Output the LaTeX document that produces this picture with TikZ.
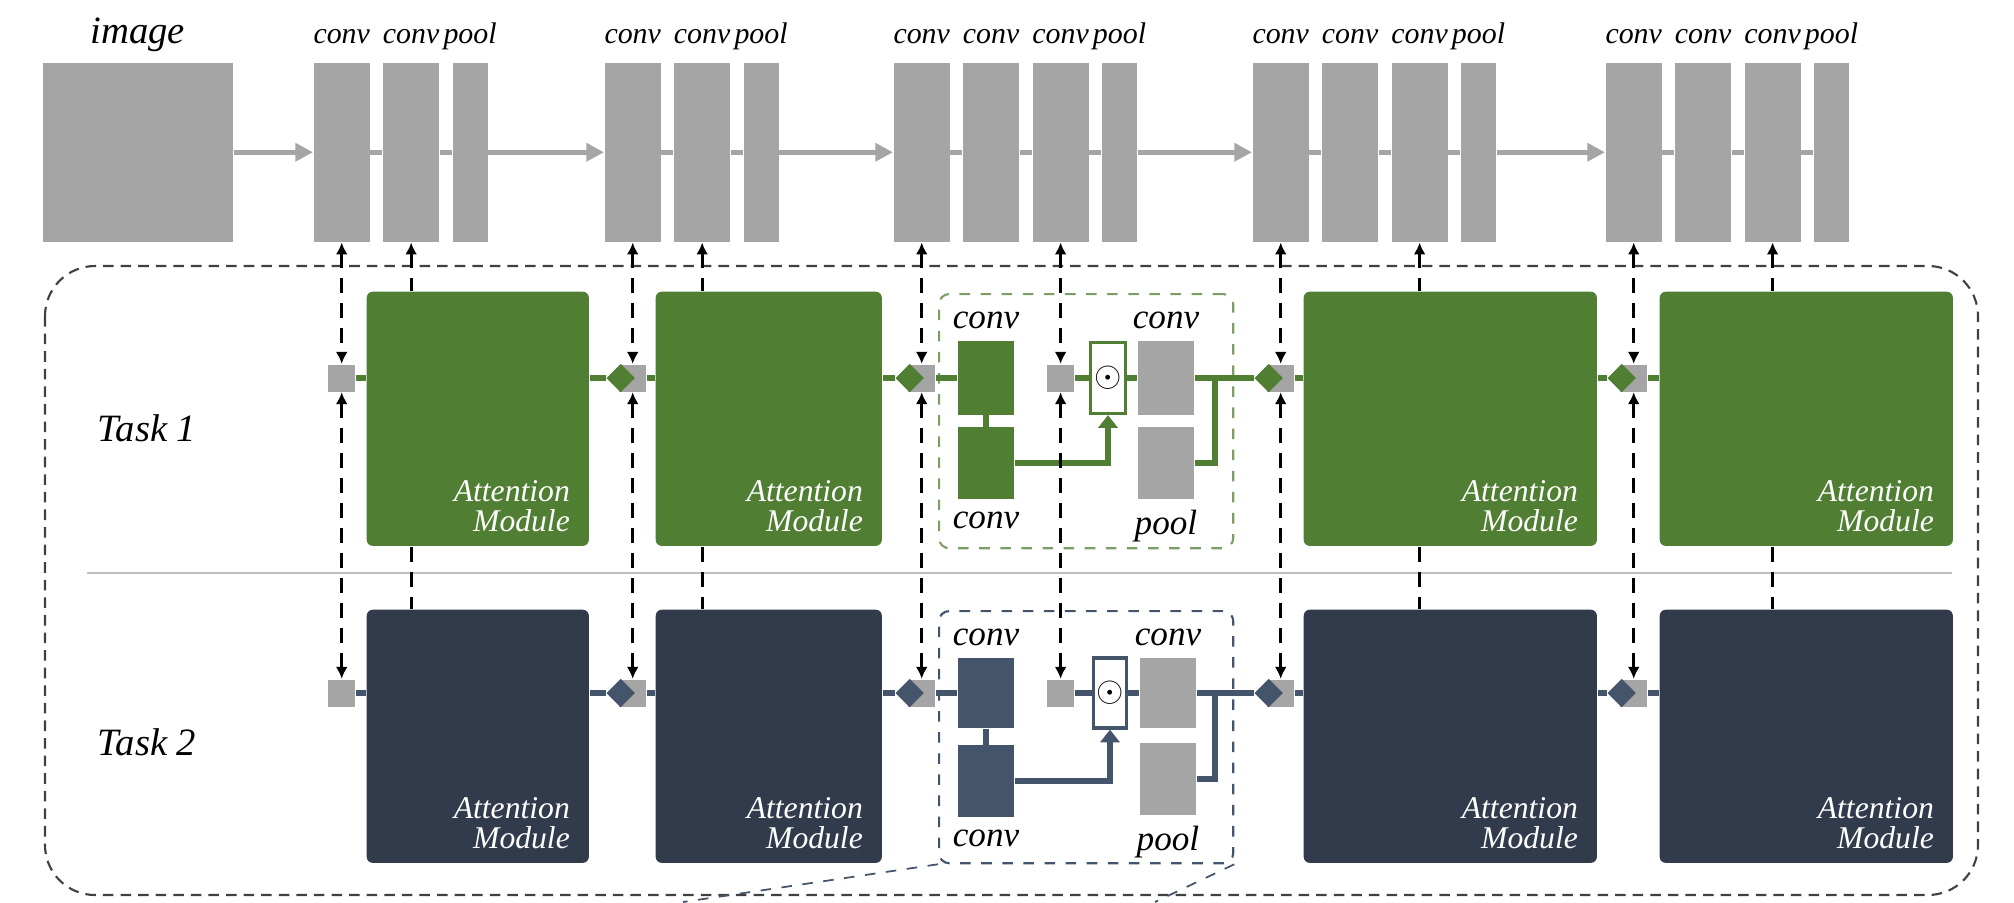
\documentclass[tikz,border=0pt]{standalone}
\usepackage{fontspec}
\setmainfont{Liberation Serif}
\usetikzlibrary{positioning, arrows.meta, shapes.geometric}

\definecolor{blkgray}{RGB}{165,165,165}
\definecolor{amgreen}{RGB}{80,126,50}
\definecolor{amdark}{RGB}{50,59,76}
\definecolor{rowdark}{RGB}{68,84,106}

\begin{document}
\begin{tikzpicture}[
  x=0.01cm, y=-0.01cm,
  convblk/.style={fill=blkgray, minimum width=5.6mm, minimum height=17.9mm,
                  inner sep=0pt, anchor=north west},
  poolblk/.style={convblk, minimum width=3.5mm},
  toplbl/.style={font=\itshape\fontsize{8.5}{9}\selectfont, inner sep=0pt,
                 text height=1.6mm, text depth=0.6mm},
  flow/.style={draw=blkgray, line width=1.4pt},
  flowarr/.style={flow, -{Triangle[length=5pt, width=5pt]}},
  amg/.style={fill=amgreen, rounded corners=0.6mm, inner sep=0pt,
              minimum height=25.4mm, anchor=north west},
  amd/.style={amg, fill=amdark, minimum height=25.3mm},
  amlbl/.style={font=\itshape\fontsize{9}{8.5}\selectfont, text=white,
                align=right, inner sep=0pt},
  tasklbl/.style={font=\itshape\fontsize{11}{12}\selectfont},
  sq/.style={fill=blkgray, minimum size=2.7mm, inner sep=0pt},
  dmdg/.style={diamond, aspect=1, fill=amgreen, minimum size=2.9mm, inner sep=0pt},
  dmdd/.style={dmdg, fill=rowdark},
  gline/.style={draw=amgreen, line width=1.6pt},
  dline/.style={draw=rowdark, line width=1.6pt},
  attn/.style={-{Triangle[length=3.6pt, width=5.4pt]}},
  inbox/.style={dashed, line width=0.6pt, rounded corners=1mm, inner sep=0pt,
                minimum width=29.4mm, anchor=north west},
  inconv/.style={minimum width=5.6mm, inner sep=0pt},
  odotbox/.style={fill=white, line width=0.9pt, minimum width=3.5mm,
                  minimum height=7.1mm, inner sep=0pt},
  inlbl/.style={font=\itshape\fontsize{10}{11}\selectfont, inner sep=0pt},
  vline/.style={draw=black, line width=0.85pt, dash pattern=on 4.3pt off 2.8pt},
  bidir/.style={vline, {Latex[length=3.4pt, width=3.4pt]}-{Latex[length=3.4pt, width=3.4pt]}},
  uparr/.style={vline, {Latex[length=3.4pt, width=3.4pt]}-},
  frame/.style={draw=black!75, line width=0.6pt, dash pattern=on 3pt off 2pt,
                rounded corners=5mm},
  zoomln/.style={draw=rowdark, line width=0.5pt, dashed},
]
\useasboundingbox (0,0) rectangle (2014,902);

% ------------------- SHARED NETWORK (top row) -------------------
\node[convblk, minimum width=19mm] (img) at (42,62) {};
\node[toplbl, font=\itshape\fontsize{11}{12}\selectfont, above=1.2mm of img] (limg) {image};

\node[convblk] (g1a) at (313,62) {};
\node[convblk, right=1.2mm of g1a] (g1b) {};
\node[poolblk, right=1.2mm of g1b] (g1p) {};

\node[convblk] (g2a) at (604,62) {};
\node[convblk, right=1.2mm of g2a] (g2b) {};
\node[poolblk, right=1.2mm of g2b] (g2p) {};

\node[convblk] (g3a) at (893,62) {};
\node[convblk, right=1.2mm of g3a] (g3b) {};
\node[convblk, right=1.2mm of g3b] (g3c) {};
\node[poolblk, right=1.2mm of g3c] (g3p) {};

\node[convblk] (g4a) at (1252,62) {};
\node[convblk, right=1.2mm of g4a] (g4b) {};
\node[convblk, right=1.2mm of g4b] (g4c) {};
\node[poolblk, right=1.2mm of g4c] (g4p) {};

\node[convblk] (g5a) at (1605,62) {};
\node[convblk, right=1.2mm of g5a] (g5b) {};
\node[convblk, right=1.2mm of g5b] (g5c) {};
\node[poolblk, right=1.2mm of g5c] (g5p) {};

\node[toplbl, above=1.2mm of g1a] (l1a) {conv};
\node[toplbl, above=1.2mm of g1b] (l1b) {conv};
\node[toplbl, above=1.2mm of g1p] (l1p) {pool};
\node[toplbl, above=1.2mm of g2a] (l2a) {conv};
\node[toplbl, above=1.2mm of g2b] (l2b) {conv};
\node[toplbl, above=1.2mm of g2p] (l2p) {pool};
\node[toplbl, above=1.2mm of g3a] (l3a) {conv};
\node[toplbl, above=1.2mm of g3b] (l3b) {conv};
\node[toplbl, above=1.2mm of g3c] (l3c) {conv};
\node[toplbl, above=1.2mm of g3p] (l3p) {pool};
\node[toplbl, above=1.2mm of g4a] (l4a) {conv};
\node[toplbl, above=1.2mm of g4b] (l4b) {conv};
\node[toplbl, above=1.2mm of g4c] (l4c) {conv};
\node[toplbl, above=1.2mm of g4p] (l4p) {pool};
\node[toplbl, above=1.2mm of g5a] (l5a) {conv};
\node[toplbl, above=1.2mm of g5b] (l5b) {conv};
\node[toplbl, above=1.2mm of g5c] (l5c) {conv};
\node[toplbl, above=1.2mm of g5p] (l5p) {pool};

\draw[flowarr] (img) -- (g1a);
\draw[flow] (g1a) -- (g1b) -- (g1p);
\draw[flowarr] (g1p) -- (g2a);
\draw[flow] (g2a) -- (g2b) -- (g2p);
\draw[flowarr] (g2p) -- (g3a);
\draw[flow] (g3a) -- (g3b) -- (g3c) -- (g3p);
\draw[flowarr] (g3p) -- (g4a);
\draw[flow] (g4a) -- (g4b) -- (g4c) -- (g4p);
\draw[flowarr] (g4p) -- (g5a);
\draw[flow] (g5a) -- (g5b) -- (g5c) -- (g5p);

% ------------------- TASK NETWORKS -------------------
\draw[frame] (45,266) rectangle (1978,895);
\draw[draw=black!25, line width=0.7pt] (87,573) -- (1952,573);

\node[tasklbl] (task1) at (147,428) {Task 1};
\node[tasklbl] (task2) at (147,742) {Task 2};

\coordinate (rowg) at (0,378);
\coordinate (rowd) at (0,693);

% attention modules, task 1
\node[amg, minimum width=22.2mm] (am1g) at (366,291) {};
\node[amg, minimum width=22.6mm] (am2g) at (655,291) {};
\node[amg, minimum width=29.3mm] (am3g) at (1303,291) {};
\node[amg, minimum width=29.3mm] (am4g) at (1659,291) {};

% attention modules, task 2
\node[amd, minimum width=22.2mm] (am1d) at (366,609) {};
\node[amd, minimum width=22.6mm] (am2d) at (655,609) {};
\node[amd, minimum width=29.3mm] (am3d) at (1303,609) {};
\node[amd, minimum width=29.3mm] (am4d) at (1659,609) {};

\node[amlbl, above left=1.4mm and 1.9mm of am1g.south east] (t1g) {Attention\\Module};
\node[amlbl, above left=1.4mm and 1.9mm of am2g.south east] (t2g) {Attention\\Module};
\node[amlbl, above left=1.4mm and 1.9mm of am3g.south east] (t3g) {Attention\\Module};
\node[amlbl, above left=1.4mm and 1.9mm of am4g.south east] (t4g) {Attention\\Module};
\node[amlbl, above left=1.4mm and 1.9mm of am1d.south east] (t1d) {Attention\\Module};
\node[amlbl, above left=1.4mm and 1.9mm of am2d.south east] (t2d) {Attention\\Module};
\node[amlbl, above left=1.4mm and 1.9mm of am3d.south east] (t3d) {Attention\\Module};
\node[amlbl, above left=1.4mm and 1.9mm of am4d.south east] (t4d) {Attention\\Module};

% feature taps (grey squares) and merge points (diamonds)
\node[sq] (s1g) at (g1a |- rowg) {};
\node[sq] (s2g) at (g2a |- rowg) {};
\node[sq] (s3g) at (g3a |- rowg) {};
\node[sq] (s4g) at (g3c |- rowg) {};
\node[sq] (s5g) at (g4a |- rowg) {};
\node[sq] (s6g) at (g5a |- rowg) {};
\node[dmdg, xshift=-1.2mm] (d2g) at (s2g) {};
\node[dmdg, xshift=-1.2mm] (d3g) at (s3g) {};
\node[dmdg, xshift=-1.2mm] (d5g) at (s5g) {};
\node[dmdg, xshift=-1.2mm] (d6g) at (s6g) {};

\node[sq] (s1d) at (g1a |- rowd) {};
\node[sq] (s2d) at (g2a |- rowd) {};
\node[sq] (s3d) at (g3a |- rowd) {};
\node[sq] (s4d) at (g3c |- rowd) {};
\node[sq] (s5d) at (g4a |- rowd) {};
\node[sq] (s6d) at (g5a |- rowd) {};
\node[dmdd, xshift=-1.2mm] (d2d) at (s2d) {};
\node[dmdd, xshift=-1.2mm] (d3d) at (s3d) {};
\node[dmdd, xshift=-1.2mm] (d5d) at (s5d) {};
\node[dmdd, xshift=-1.2mm] (d6d) at (s6d) {};

% ------------------- OPENED-UP MODULE (task 1) -------------------
\node[inbox, draw=amgreen!75, minimum height=25.4mm] (ibg) at (938,293) {};
\node[inconv, fill=amgreen, minimum height=7.3mm] (ctg) at (986,378) {};
\node[inconv, fill=amgreen, minimum height=7.1mm] (cbg) at (986,463) {};
\node[odotbox, draw=amgreen] (mg) at (1108,378) {$\odot$};
\node[inconv, fill=blkgray, minimum height=7.3mm] (pcg) at (1166,378) {};
\node[inconv, fill=blkgray, minimum height=7.2mm] (ppg) at (1166,463) {};
\coordinate (jg) at (1215,378);

\node[inlbl, above=1.1mm of ctg] (lctg) {conv};
\node[inlbl, below=1.2mm of cbg] (lcbg) {conv};
\node[inlbl, above=1.1mm of pcg] (lpcg) {conv};
\node[inlbl, below=1.0mm of ppg] (lppg) {pool};

% ------------------- OPENED-UP MODULE (task 2) -------------------
\node[inbox, draw=rowdark, minimum height=25.2mm] (ibd) at (938,610) {};
\node[inconv, fill=rowdark, minimum height=7.0mm] (ctd) at (986,693) {};
\node[inconv, fill=rowdark, minimum height=7.1mm] (cbd) at (986,781) {};
\node[odotbox, draw=rowdark, minimum width=3.3mm, minimum height=7.0mm] (md) at (1110,693) {$\odot$};
\node[inconv, fill=blkgray, minimum height=7.0mm] (pcd) at (1168,693) {};
\node[inconv, fill=blkgray, minimum height=7.2mm] (ppd) at (1168,779) {};
\coordinate (jd) at (1215,693);

\node[inlbl, above=1.1mm of ctd] (lctd) {conv};
\node[inlbl, below=1.2mm of cbd] (lcbd) {conv};
\node[inlbl, above=1.1mm of pcd] (lpcd) {conv};
\node[inlbl, below=1.0mm of ppd] (lppd) {pool};

% ------------------- task 1 path -------------------
\draw[gline] (s1g) -- (s1g -| am1g.west);
\draw[gline] (d2g -| am1g.east) -- (d2g);
\draw[gline] (s2g) -- (s2g -| am2g.west);
\draw[gline] (d3g -| am2g.east) -- (d3g);
\draw[gline] (s3g) -- (ctg);
\draw[gline] (ctg) -- (cbg);
\draw[gline, attn] (cbg) -| (mg);
\draw[gline] (s4g) -- (mg);
\draw[gline] (mg) -- (pcg);
\draw[gline] (pcg) -- (jg);
\draw[gline] (ppg) -| (jg);
\draw[gline] (jg) -- (d5g);
\draw[gline] (s5g) -- (s5g -| am3g.west);
\draw[gline] (d6g -| am3g.east) -- (d6g);
\draw[gline] (s6g) -- (s6g -| am4g.west);

% ------------------- task 2 path -------------------
\draw[dline] (s1d) -- (s1d -| am1d.west);
\draw[dline] (d2d -| am1d.east) -- (d2d);
\draw[dline] (s2d) -- (s2d -| am2d.west);
\draw[dline] (d3d -| am2d.east) -- (d3d);
\draw[dline] (s3d) -- (ctd);
\draw[dline] (ctd) -- (cbd);
\draw[dline, attn] (cbd) -| (md);
\draw[dline] (s4d) -- (md);
\draw[dline] (md) -- (pcd);
\draw[dline] (pcd) -- (jd);
\draw[dline] (ppd) -| (jd);
\draw[dline] (jd) -- (d5d);
\draw[dline] (s5d) -- (s5d -| am3d.west);
\draw[dline] (d6d -| am3d.east) -- (d6d);
\draw[dline] (s6d) -- (s6d -| am4d.west);

% ------------------- shared features in / gradients out -------------------
\draw[bidir] (g1a) -- (s1g);
\draw[bidir] (s1g) -- (s1d);
\draw[bidir] (g2a) -- (s2g);
\draw[bidir] (s2g) -- (s2d);
\draw[bidir] (g3a) -- (s3g);
\draw[bidir] (s3g) -- (s3d);
\draw[bidir] (g3c) -- (s4g);
\draw[bidir] (s4g) -- (s4d);
\draw[bidir] (g4a) -- (s5g);
\draw[bidir] (s5g) -- (s5d);
\draw[bidir] (g5a) -- (s6g);
\draw[bidir] (s6g) -- (s6d);

\draw[uparr] (g1b) -- (g1b |- am1g.north);
\draw[vline] (g1b |- am1g.south) -- (g1b |- am1d.north);
\draw[uparr] (g2b) -- (g2b |- am2g.north);
\draw[vline] (g2b |- am2g.south) -- (g2b |- am2d.north);
\draw[uparr] (g4c) -- (g4c |- am3g.north);
\draw[vline] (g4c |- am3g.south) -- (g4c |- am3d.north);
\draw[uparr] (g5c) -- (g5c |- am4g.north);
\draw[vline] (g5c |- am4g.south) -- (g5c |- am4d.north);

% zoom-out lines below the opened module
\coordinate (zl) at (683,902);
\coordinate (zr) at (1155,902);
\draw[zoomln] (ibd.south west) -- (zl);
\draw[zoomln] (ibd.south east) -- (zr);

\end{tikzpicture}
\end{document}
